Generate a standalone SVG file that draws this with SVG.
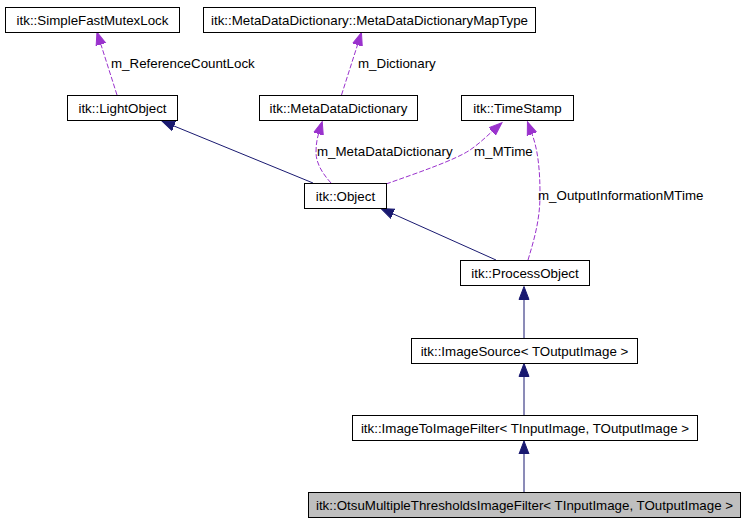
<svg xmlns="http://www.w3.org/2000/svg" width="745" height="523" viewBox="0 0 745 523">
<style>
  .node rect { fill: #ffffff; stroke: #000000; stroke-width: 1; }
  .node.current rect { fill: #bfbfbf; }
  .node text { font-family: "Liberation Sans", Arial, Helvetica, sans-serif; font-size: 13.33px; fill: #000000; text-anchor: middle; }
  .inh { fill: none; stroke: #191970; stroke-width: 1; marker-end: url(#arrNavy); }
  .use { fill: none; stroke: #9a32cd; stroke-width: 1; stroke-dasharray: 5,2; marker-end: url(#arrPurple); }
  .lbl { font-family: "Liberation Sans", Arial, Helvetica, sans-serif; font-size: 13.33px; fill: #000000; }
</style>
<defs>
  <marker id="arrNavy" markerUnits="userSpaceOnUse" markerWidth="16" markerHeight="14" refX="0" refY="7" orient="auto" viewBox="0 0 16 14">
    <path d="M0,2 L13,7 L0,12 Z" fill="#191970" stroke="#191970" stroke-width="1"/>
  </marker>
  <marker id="arrPurple" markerUnits="userSpaceOnUse" markerWidth="16" markerHeight="14" refX="0" refY="7" orient="auto" viewBox="0 0 16 14">
    <path d="M0,2 L13,7 L0,12 Z" fill="#9a32cd" stroke="#9a32cd" stroke-width="1"/>
  </marker>
</defs>
<rect x="0" y="0" width="745" height="523" fill="#ffffff"/>

<g id="connectors">
  <path class="use" d="M117,95 L100.9,44.4"/>
  <path class="use" d="M341.5,95 L357.5,44.9"/>
  <path class="use" d="M331,183 C322,173 316,163 316,152 C316,145 317,139 318.5,134"/>
  <path class="use" d="M386,184 C420,172 455,160 470,150 C480,143 487,136 492.2,131.4"/>
  <path class="use" d="M528,260 C534,240 540,220 540,195 C540,170 538,150 532,134"/>
  <path class="inh" d="M313,183 L174,126"/>
  <path class="inh" d="M496,260 L392.9,213.8"/>
  <path class="inh" d="M524,338 L524,299.5"/>
  <path class="inh" d="M524,415 L524,376.5"/>
  <path class="inh" d="M524,492 L524,454"/>
  <text class="lbl" x="111" y="68">m_ReferenceCountLock</text>
  <text class="lbl" x="358" y="68">m_Dictionary</text>
  <text class="lbl" x="317" y="156">m_MetaDataDictionary</text>
  <text class="lbl" x="474" y="156">m_MTime</text>
  <text class="lbl" x="538" y="200">m_OutputInformationMTime</text>
</g>

<g id="SimpleFastMutexLock" class="node">
  <rect x="5.5" y="7.5" width="174" height="25"/>
  <text x="92.5" y="24.7">itk::SimpleFastMutexLock</text>
</g>
<g id="MetaDataDictionaryMapType" class="node">
  <rect x="203.5" y="7.5" width="332" height="25"/>
  <text x="369.5" y="24.7">itk::MetaDataDictionary::MetaDataDictionaryMapType</text>
</g>
<g id="LightObject" class="node">
  <rect x="67.5" y="95.5" width="110" height="25"/>
  <text x="122.5" y="112.7">itk::LightObject</text>
</g>
<g id="MetaDataDictionary" class="node">
  <rect x="259.5" y="95.5" width="158" height="25"/>
  <text x="338.5" y="112.7">itk::MetaDataDictionary</text>
</g>
<g id="TimeStamp" class="node">
  <rect x="461.5" y="95.5" width="112" height="25"/>
  <text x="517.5" y="112.7">itk::TimeStamp</text>
</g>
<g id="Object" class="node">
  <rect x="304.5" y="183.5" width="82" height="25"/>
  <text x="345.5" y="200.7">itk::Object</text>
</g>
<g id="ProcessObject" class="node">
  <rect x="460.5" y="260.5" width="129" height="25"/>
  <text x="525" y="277.7">itk::ProcessObject</text>
</g>
<g id="ImageSource" class="node">
  <rect x="411.5" y="338.5" width="226" height="25"/>
  <text x="524.5" y="355.7">itk::ImageSource&lt; TOutputImage &gt;</text>
</g>
<g id="ImageToImageFilter" class="node">
  <rect x="352.5" y="415.5" width="345" height="25"/>
  <text x="525" y="432.7">itk::ImageToImageFilter&lt; TInputImage, TOutputImage &gt;</text>
</g>
<g id="OtsuMultipleThresholdsImageFilter" class="node current">
  <rect x="308.5" y="492.5" width="432" height="25"/>
  <text x="524.5" y="509.7">itk::OtsuMultipleThresholdsImageFilter&lt; TInputImage, TOutputImage &gt;</text>
</g>
</svg>
